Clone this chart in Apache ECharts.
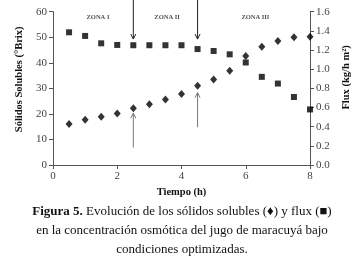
<!DOCTYPE html>
<html>
<head>
<meta charset="utf-8">
<script src="https://cdn.jsdelivr.net/npm/echarts@6/dist/echarts.min.js"></script>
<style>
  html, body { margin: 0; padding: 0; background: #fff; }
  #chart { width: 364px; height: 263px; }
</style>
</head>
<body>
<div id="chart"></div>
<script>
    // tiempo (h)
    var tiempo = [0.5, 1, 1.5, 2, 2.5, 3, 3.5, 4, 4.5, 5, 5.5, 6, 6.5, 7, 7.5, 8];
    // solidos solubles (°Brix) - eje izquierdo
    var solidos = [16, 17.7, 18.9, 20.2, 22.2, 23.8, 25.6, 27.8, 31.0, 33.5, 36.9, 42.7, 46.3, 48.5, 50.0, 50.2];
    // flux (kg/h m2) - eje derecho
    var flux = [1.385, 1.347, 1.27, 1.253, 1.25, 1.25, 1.25, 1.25, 1.21, 1.19, 1.155, 1.07, 0.92, 0.85, 0.71, 0.58];
    var zonas = ['ZONA I', 'ZONA II', 'ZONA III'];
    var zonaX = [1.4, 3.55, 6.3];
    // flechas: x, inicio y fin (en °Brix)
    var flechasX = [2.5, 2.5, 4.5, 4.5];
    var flechasDesde = [64.6, 6.8, 64.6, 14.8];
    var flechasHasta = [49.3, 20.3, 49.3, 28.3];
    var flechasColor = ['#222', '#777', '#222', '#777'];

    var serif = 'Liberation Serif';
    var myChart = echarts.init(document.getElementById('chart'));

    function pares(xs, ys) {
        return xs.map(function (x, i) { return [x, ys[i]]; });
    }

    var axisLine = { show: true, lineStyle: { color: '#555', width: 1 } };
    var axisTick = { show: true, inside: false, length: 4, lineStyle: { color: '#555' } };
    var label = { fontFamily: serif, fontSize: 11, color: '#444' };
    var nombre = { fontFamily: serif, fontSize: 10.5, fontWeight: 'bold', color: '#111' };

    var option = {
        animation: false,
        backgroundColor: '#fff',
        title: [
            {
                text: '{b|Figura 5.} Evolución de los sólidos solubles (♦) y flux (■)',
                left: 'center', top: 200,
                textStyle: {
                    fontFamily: serif, fontSize: 13, fontWeight: 'normal', color: '#111',
                    rich: { b: { fontFamily: serif, fontSize: 13, fontWeight: 'bold', color: '#111' } }
                }
            },
            {
                text: 'en la concentración osmótica del jugo de maracuyá bajo',
                left: 'center', top: 219,
                textStyle: { fontFamily: serif, fontSize: 13, fontWeight: 'normal', color: '#111' }
            },
            {
                text: 'condiciones optimizadas.',
                left: 'center', top: 238,
                textStyle: { fontFamily: serif, fontSize: 13, fontWeight: 'normal', color: '#111' }
            }
        ],
        grid: { left: 53, right: 54, top: 11.7, bottom: 98, containLabel: false },
        xAxis: {
            type: 'value', min: 0, max: 8, interval: 2,
            name: 'Tiempo (h)', nameLocation: 'middle', nameGap: 19,
            nameTextStyle: nombre,
            axisLine: axisLine, axisTick: axisTick,
            axisLabel: Object.assign({ margin: 6 }, label),
            splitLine: { show: false }
        },
        yAxis: [
            {
                type: 'value', min: 0, max: 60, interval: 10,
                name: 'Sólidos Solubles (°Brix)', nameLocation: 'middle', nameGap: 27,
                nameTextStyle: Object.assign({ padding: [0, 0, 0, 18] }, nombre),
                axisLine: axisLine, axisTick: axisTick,
                axisLabel: Object.assign({ margin: 6 }, label),
                splitLine: { show: false }
            },
            {
                type: 'value', min: 0, max: 1.6, interval: 0.2, position: 'right',
                name: 'Flux (kg/h m²)', nameLocation: 'middle', nameGap: 31, nameRotate: 90,
                nameTextStyle: Object.assign({ padding: [0, 0, 0, 22] }, nombre),
                axisLine: axisLine, axisTick: axisTick,
                axisLabel: Object.assign({ margin: 6, formatter: function (v) { return v.toFixed(1); } }, label),
                splitLine: { show: false }
            }
        ],
        series: [
            {
                name: 'Sólidos', type: 'scatter', yAxisIndex: 0,
                symbol: 'diamond', symbolSize: [7, 8],
                itemStyle: { color: '#000' },
                data: pares(tiempo, solidos)
            },
            {
                name: 'Flux', type: 'scatter', yAxisIndex: 1,
                symbol: 'rect', symbolSize: 6,
                itemStyle: { color: '#000' },
                data: pares(tiempo, flux)
            },
            {
                name: 'Zonas', type: 'scatter', yAxisIndex: 0,
                symbolSize: 0, silent: true,
                data: zonaX.map(function (x) { return [x, 57.9]; }),
                label: {
                    show: true, position: 'inside',
                    formatter: function (p) { return zonas[p.dataIndex]; },
                    fontFamily: serif, fontSize: 6.5, fontWeight: 'bold', color: '#222'
                }
            }
        ]
    };

    myChart.setOption(option);

    // flechas dibujadas con la escala del grafico
    var graficos = [];
    flechasX.forEach(function (x, i) {
        var a = myChart.convertToPixel({ xAxisIndex: 0, yAxisIndex: 0 }, [x, flechasDesde[i]]);
        var b = myChart.convertToPixel({ xAxisIndex: 0, yAxisIndex: 0 }, [x, flechasHasta[i]]);
        var dir = b[1] > a[1] ? 1 : -1;
        var estilo = { stroke: flechasColor[i], lineWidth: 1, fill: null };
        graficos.push({
            type: 'line', silent: true,
            shape: { x1: a[0], y1: a[1], x2: b[0], y2: b[1] },
            style: estilo
        });
        graficos.push({
            type: 'polyline', silent: true,
            shape: { points: [[b[0] - 2.5, b[1] - dir * 5], [b[0], b[1]], [b[0] + 2.5, b[1] - dir * 5]] },
            style: estilo
        });
    });
    myChart.setOption({ graphic: graficos });
</script>
</body>
</html>
